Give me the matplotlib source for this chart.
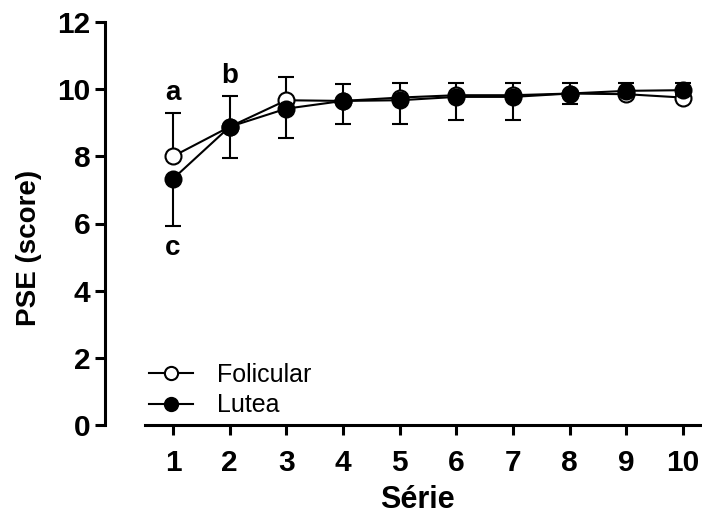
import numpy as np
import matplotlib
matplotlib.use("Agg")
import matplotlib.pyplot as plt
from matplotlib.lines import Line2D

plt.rcParams['font.family'] = ['Liberation Sans', 'DejaVu Sans']

# dados
serie = [1, 2, 3, 4, 5, 6, 7, 8, 9, 10]
folicular = [8.0, 8.88, 9.67, 9.65, 9.75, 9.82, 9.82, 9.87, 9.85, 9.75]
folicular_err = [1.3, 0.92, 0.68, 0.5, 0.44, 0.37, 0.37, 0.32, 0.34, 0.44]
lutea = [7.33, 8.88, 9.42, 9.65, 9.67, 9.77, 9.77, 9.87, 9.95, 9.97]
lutea_err = [1.41, 0.94, 0.87, 0.7, 0.72, 0.69, 0.69, 0.32, 0.1, 0.1]

# letras de significância
letras = ['a', 'b', 'c']
letras_x = [1, 2, 1]
letras_y = [9.9, 10.38, 5.27]

fig = plt.figure(figsize=(7.02, 5.21), dpi=100)
ax = fig.add_axes([105 / 702, 1 - 425 / 521, 1 - 105 / 702, (425 - 22) / 521])

zero = np.zeros(len(serie))

# Folicular: barras de erro só para cima
ax.errorbar(serie, folicular, yerr=[zero, folicular_err], fmt='none',
            ecolor='black', elinewidth=1.5, capsize=6, capthick=1.5, zorder=2)
ax.plot(serie, folicular, '-o', color='black', lw=1.5, ms=11.5,
        mfc='white', mec='black', mew=1.5, zorder=3)

# Lutea: barras de erro só para baixo
ax.errorbar(serie, lutea, yerr=[lutea_err, zero], fmt='none',
            ecolor='black', elinewidth=1.5, capsize=6, capthick=1.5, zorder=4)
ax.plot(serie, lutea, '-o', color='black', lw=1.5, ms=11.5,
        mfc='black', mec='black', mew=1.5, zorder=5)

for t, x, y in zip(letras, letras_x, letras_y):
    ax.text(x, y, t, ha='center', va='center', fontsize=20, fontweight='bold')

ax.set_xlim(-0.2, 10.335)
ax.set_ylim(0, 12)
ax.set_xticks(serie)
ax.set_yticks(np.arange(0, 13, 2))

for s in ['top', 'right']:
    ax.spines[s].set_visible(False)
ax.spines['left'].set_linewidth(2.2)
ax.spines['bottom'].set_linewidth(2.2)
ax.spines['bottom'].set_bounds(0.5, 10.335)
ax.tick_params(width=2.2, length=7, direction='out', labelsize=21.5)
ax.tick_params(axis='x', pad=10)
ax.tick_params(axis='y', pad=3.5)
for lab in ax.get_xticklabels() + ax.get_yticklabels():
    lab.set_fontweight('bold')

ax.set_xlabel('Série', fontsize=22, fontweight='bold', va='center')
ax.xaxis.set_label_coords(0.524, -0.186)
ax.set_ylabel('PSE (score)', fontsize=20, fontweight='bold', va='center')
ax.yaxis.set_label_coords(-0.127, 0.44)

handles = [
    Line2D([], [], color='black', lw=1.5, marker='o', ms=9.5, mfc='white', mec='black', mew=1.5),
    Line2D([], [], color='black', lw=1.5, marker='o', ms=9.5, mfc='black', mec='black', mew=1.5),
]
fig.legend(handles, ['Folicular', 'Lutea'], loc='upper left',
           bbox_to_anchor=(149 / 702, 1 - 363 / 521), frameon=False,
           fontsize=18, borderpad=0, borderaxespad=0, handlelength=1.76,
           handletextpad=0.95, labelspacing=0.25)

fig.savefig('out.png', dpi=100)
